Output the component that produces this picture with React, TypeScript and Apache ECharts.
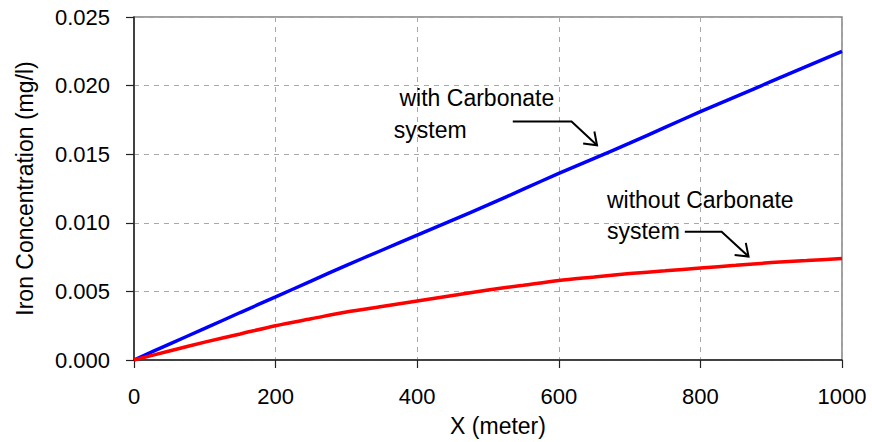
import React, { useEffect, useRef } from "react";
import * as echarts from "echarts";

const xValues = [0, 50, 100, 150, 200, 250, 300, 350, 400, 450, 500, 550, 600, 650, 700, 750, 800, 850, 900, 950, 1000];
const withCarbonate = [0, 0.00116, 0.0023, 0.00346, 0.0046, 0.00575, 0.0069, 0.008, 0.0091, 0.0102, 0.0113, 0.01245, 0.0136, 0.0147, 0.0158, 0.01695, 0.0181, 0.0192, 0.0203, 0.0214, 0.0225];
const withoutCarbonate = [0, 0.00066, 0.0013, 0.0019, 0.0025, 0.003, 0.0035, 0.0039, 0.0043, 0.0047, 0.0051, 0.00545, 0.0058, 0.00605, 0.0063, 0.0065, 0.0067, 0.0069, 0.0071, 0.00725, 0.0074];

const xTitle = "X (meter)";
const yTitle = "Iron Concentration (mg/l)";

// annotation anchors in data coordinates
const annotations = [
  {
    lines: ["with Carbonate", "system"],
    textAt: [[375, 0.01913], [367, 0.01674]],
    arrow: [[535, 0.01739], [618, 0.01739], [654, 0.01565]],
  },
  {
    lines: ["without Carbonate", "system"],
    textAt: [[668, 0.01167], [668, 0.00942]],
    arrow: [[778, 0.00935], [830, 0.00935], [868, 0.00754]],
  },
];

const FONT = "'Liberation Sans', Arial, sans-serif";
const FS = 22;
const FS_T = 23;

export default function App() {
  const ref = useRef<HTMLDivElement>(null);
  useEffect(() => {
    if (!ref.current) return;
    const chart = echarts.init(ref.current, null, { renderer: "svg" });
    const option: any = {
      animation: false,
      backgroundColor: "#ffffff",
      grid: {
        left: 134,
        right: 30,
        top: 17,
        bottom: 80,
        show: true,
        borderColor: "#808080",
        borderWidth: 1.5,
        backgroundColor: "transparent",
      },
      xAxis: {
        type: "value",
        min: 0,
        max: 1000,
        interval: 200,
        name: xTitle,
        nameLocation: "middle",
        nameGap: 54,
        nameTextStyle: { fontFamily: FONT, fontSize: FS_T, color: "#000", padding: [0, 0, 0, 20] },
        axisLine: { lineStyle: { color: "#222", width: 1.5 } },
        axisTick: { show: true, length: 8, inside: false, lineStyle: { color: "#222", width: 1.2 } },
        axisLabel: {
          fontFamily: FONT,
          fontSize: FS,
          color: "#000",
          margin: 25,
          formatter: (v: number) => String(v),
        },
        splitLine: { show: true, lineStyle: { color: "#a8a8a8", type: [5, 5], width: 1 } },
      },
      yAxis: {
        type: "value",
        min: 0,
        max: 0.025,
        interval: 0.005,
        name: yTitle,
        nameLocation: "middle",
        nameRotate: 90,
        nameGap: 98,
        nameTextStyle: { fontFamily: FONT, fontSize: FS_T, color: "#000" },
        axisLine: { show: true, lineStyle: { color: "#222", width: 1.5 } },
        axisTick: { show: true, length: 8, inside: false, lineStyle: { color: "#222", width: 1.2 } },
        axisLabel: {
          fontFamily: FONT,
          fontSize: FS,
          color: "#000",
          margin: 24,
          formatter: (v: number) => v.toFixed(3),
        },
        splitLine: { show: true, lineStyle: { color: "#a8a8a8", type: [5, 5], width: 1 } },
      },
      series: [
        {
          name: "with Carbonate system",
          type: "line",
          data: xValues.map((x, i) => [x, withCarbonate[i]]),
          showSymbol: false,
          smooth: 0.3,
          lineStyle: { color: "#0000ff", width: 3.5 },
          z: 3,
        },
        {
          name: "without Carbonate system",
          type: "line",
          data: xValues.map((x, i) => [x, withoutCarbonate[i]]),
          showSymbol: false,
          smooth: 0.3,
          lineStyle: { color: "#ff0000", width: 3.5 },
          z: 3,
        },
      ],
    };
    chart.setOption(option);

    const graphics: any[] = [];
    annotations.forEach((a) => {
      a.lines.forEach((t, i) => {
        const p = chart.convertToPixel({ gridIndex: 0 }, a.textAt[i]) as number[];
        graphics.push({
          type: "text",
          x: p[0],
          y: p[1],
          z: 10,
          style: {
            text: t,
            fontFamily: FONT,
            fontSize: FS_T,
            fill: "#000",
            textAlign: "left",
            textVerticalAlign: "middle",
          },
        });
      });
      const pts = a.arrow.map((d) => chart.convertToPixel({ gridIndex: 0 }, d) as number[]);
      graphics.push({
        type: "polyline",
        z: 10,
        shape: { points: pts },
        style: { stroke: "#000", lineWidth: 2, fill: null },
      });
      const tip = pts[pts.length - 1];
      const prev = pts[pts.length - 2];
      const ang = Math.atan2(tip[1] - prev[1], tip[0] - prev[0]);
      const len = 14;
      const spread = Math.PI / 5;
      const h1 = [tip[0] - len * Math.cos(ang - spread), tip[1] - len * Math.sin(ang - spread)];
      const h2 = [tip[0] - len * Math.cos(ang + spread), tip[1] - len * Math.sin(ang + spread)];
      graphics.push({
        type: "polyline",
        z: 10,
        shape: { points: [h1, tip, h2] },
        style: { stroke: "#000", lineWidth: 2, fill: null },
      });
    });
    chart.setOption({ graphic: graphics });

    return () => chart.dispose();
  }, []);

  return (
    <div
      ref={ref}
      style={{ position: "fixed", left: 0, top: 0, width: 872, height: 442, background: "#fff" }}
    />
  );
}
